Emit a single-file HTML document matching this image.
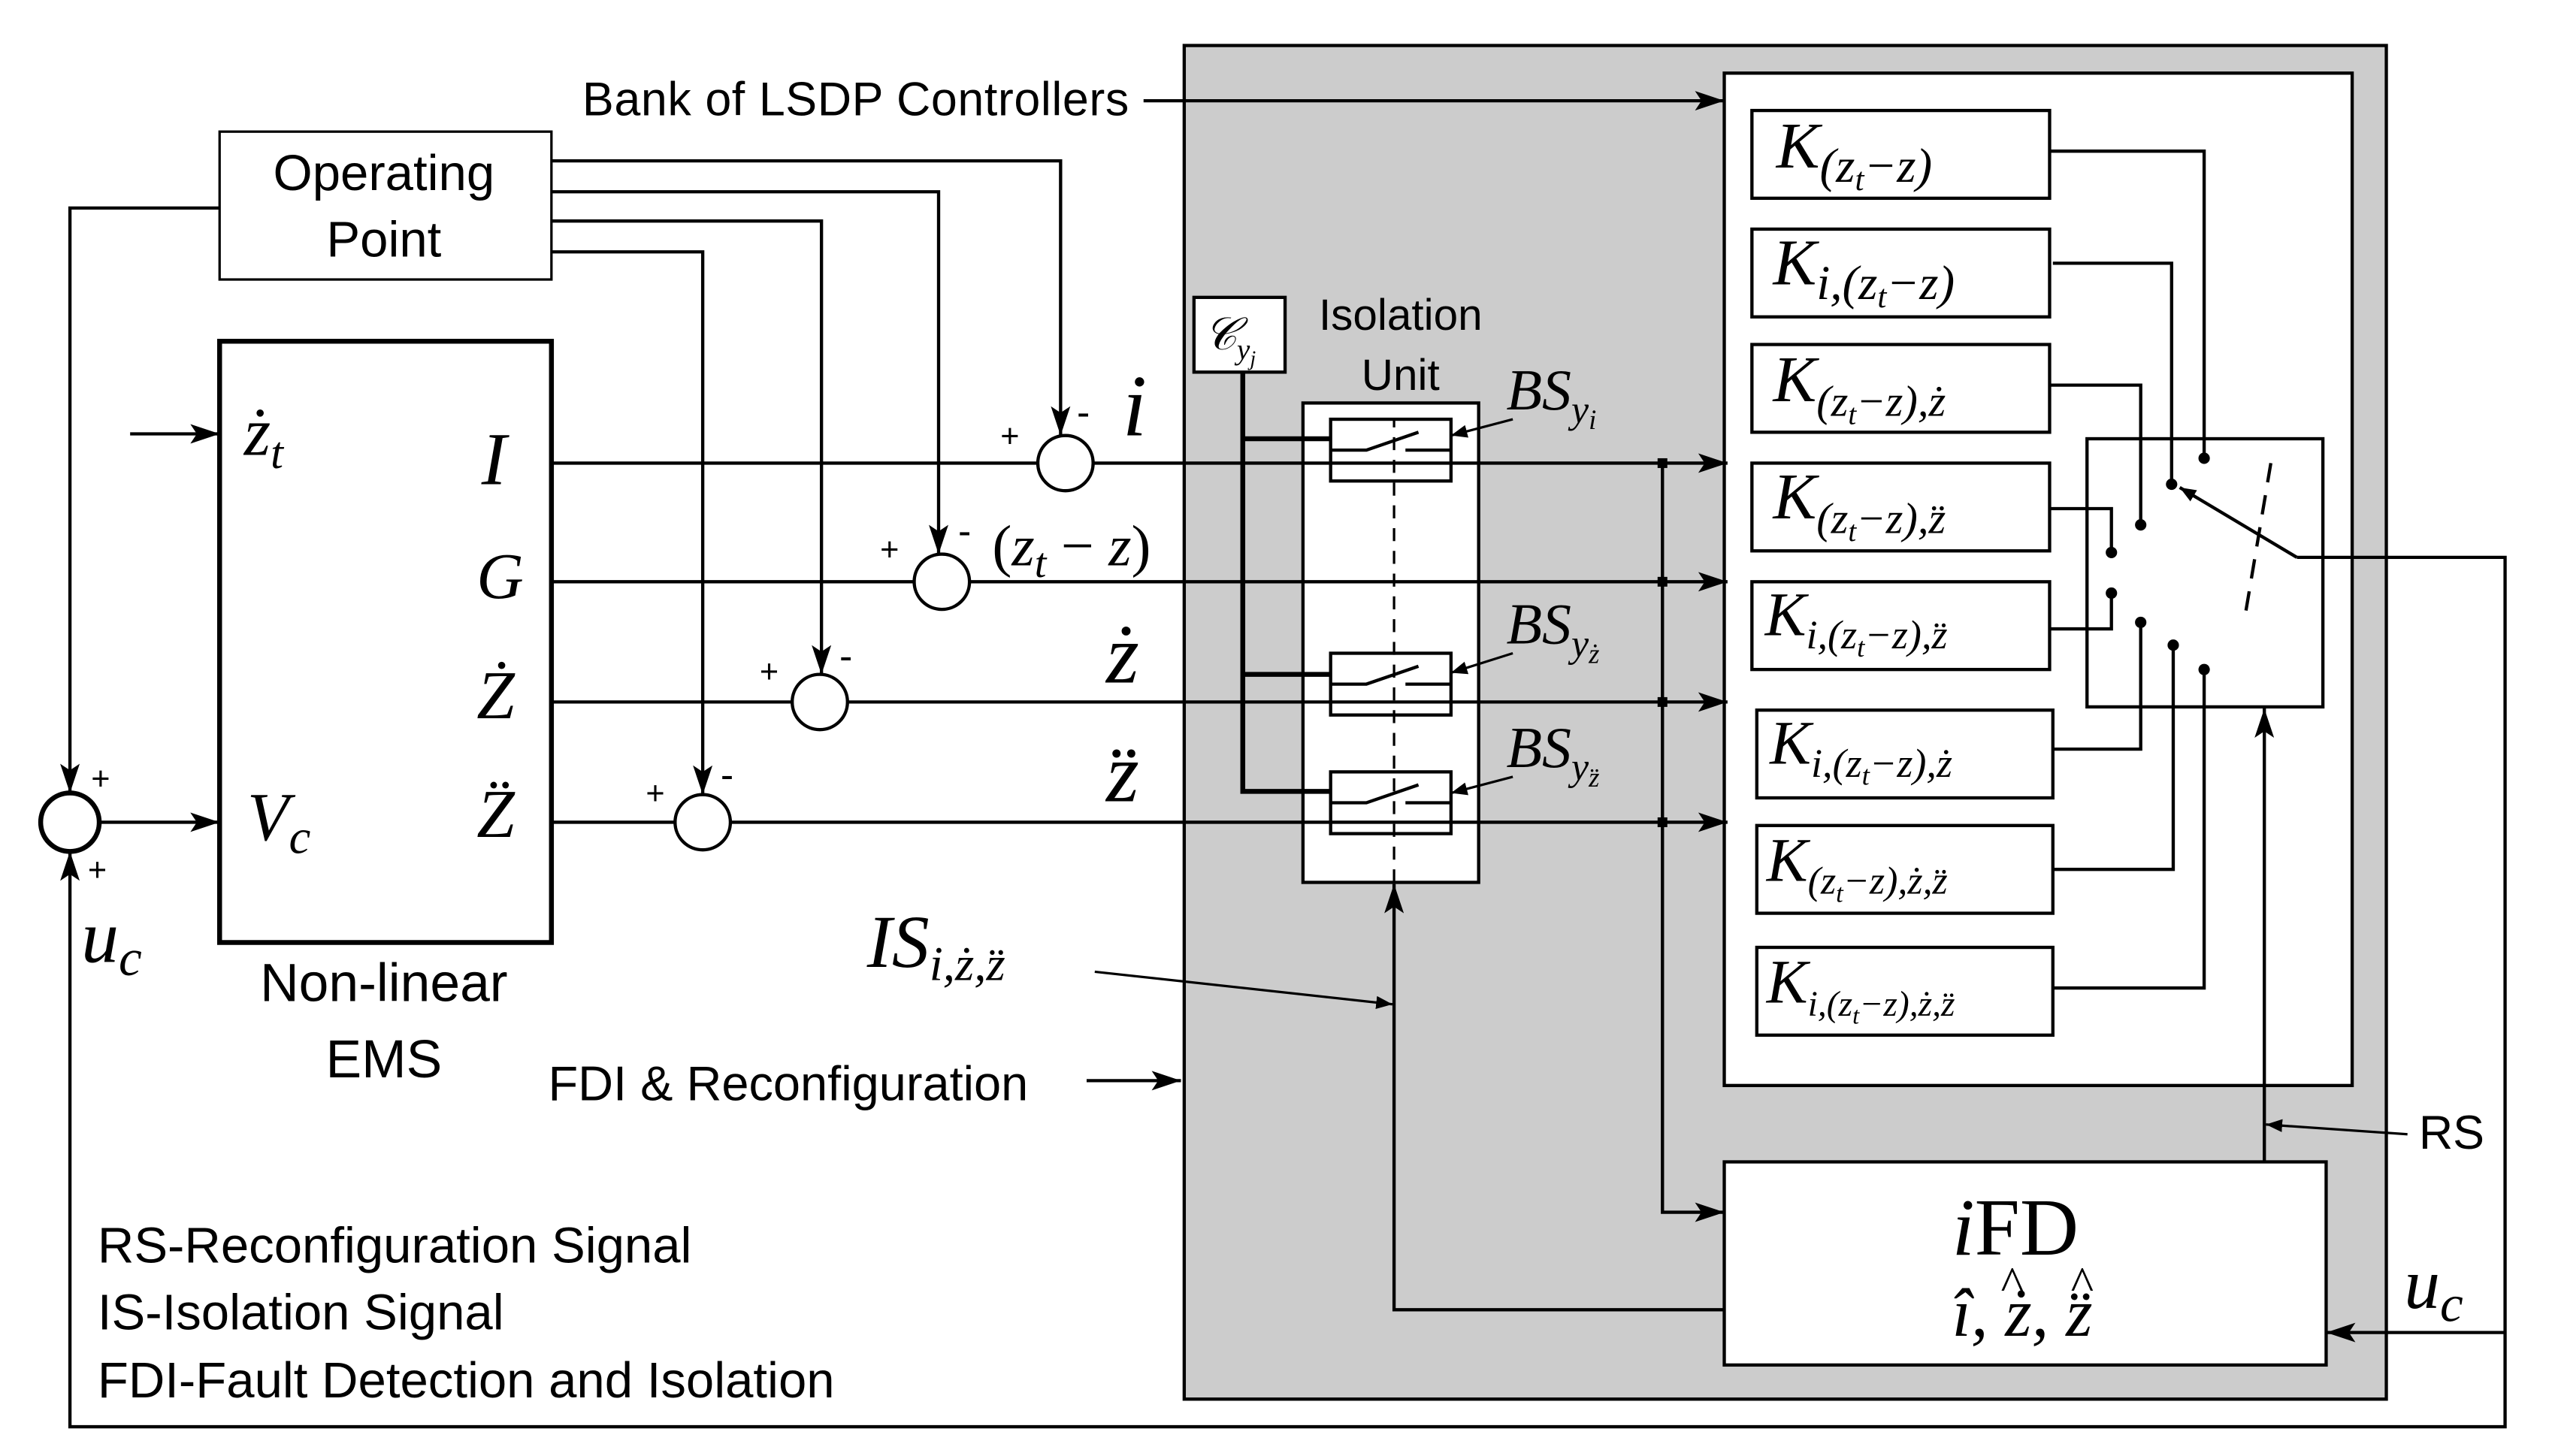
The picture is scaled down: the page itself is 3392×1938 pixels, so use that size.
<!DOCTYPE html>
<html><head><meta charset="utf-8"><style>
html,body{margin:0;padding:0;background:#fff;}
svg{display:block;}
.s{font-family:"Liberation Sans",sans-serif;}
.m{font-family:"Liberation Serif",serif;font-style:italic;}
</style></head><body>
<svg width="3392" height="1938" viewBox="0 0 1567 896" preserveAspectRatio="none" xmlns="http://www.w3.org/2000/svg">
<defs>
<marker id="a" markerWidth="10" markerHeight="8" refX="10" refY="4" orient="auto" markerUnits="userSpaceOnUse">
<path d="M0,0 L10,4 L0,8 Z" fill="#000"/></marker>
<marker id="b" markerWidth="18" markerHeight="12" refX="18" refY="6" orient="auto" markerUnits="userSpaceOnUse">
<path d="M0,0 L18,6 L0,12 L4,6 Z" fill="#000"/></marker>
</defs>
<g fill="none" stroke="#000" stroke-width="2">
<rect x="728" y="28" width="739" height="833" fill="#cccccc"/>
<rect x="1060" y="45" width="386" height="623" fill="#fff"/>
<rect x="1077" y="68" width="183" height="54" fill="#fff"/>
<rect x="1077" y="141" width="183" height="54" fill="#fff"/>
<rect x="1077" y="212" width="183" height="54" fill="#fff"/>
<rect x="1077" y="285" width="183" height="54" fill="#fff"/>
<rect x="1077" y="358" width="183" height="54" fill="#fff"/>
<rect x="1080" y="437" width="182" height="54" fill="#fff"/>
<rect x="1080" y="508" width="182" height="54" fill="#fff"/>
<rect x="1080" y="583" width="182" height="54" fill="#fff"/>
<rect x="1283" y="270" width="145" height="165" fill="#fff"/>
<rect x="1060" y="715" width="370" height="125" fill="#fff"/>
<rect x="801" y="248" width="108" height="295" fill="#fff"/>
<rect x="734" y="183" width="56" height="46" fill="#fff"/>
<rect x="135" y="81" width="204" height="91" fill="#fff" stroke-width="1.5"/>
<rect x="135" y="210" width="204" height="370" fill="#fff" stroke-width="3"/>
<circle cx="43" cy="506" r="18" stroke-width="3"/>
<circle cx="655" cy="285" r="17"/>
<circle cx="579" cy="358" r="17"/>
<circle cx="504" cy="432" r="17"/>
<circle cx="432" cy="506" r="17"/>
<rect x="818" y="258" width="74" height="38"/>
<rect x="818" y="402" width="74" height="38"/>
<rect x="818" y="475" width="74" height="38"/>
<path d="M818,277 H840 L872,266 M864,277 H892 M818,421 H840 L872,410 M864,421 H892 M818,494 H840 L872,483 M864,494 H892"/>
<path d="M857,543 V258" stroke-dasharray="8,6" stroke-width="1.5"/>
<path d="M764,229 V487 H818 M764,270 H818 M764,415 H818" stroke-width="3"/>
<path d="M339,285 H638 M672,285 H1062" marker-end="url(#b)"/>
<path d="M339,358 H562 M596,358 H1062" marker-end="url(#b)"/>
<path d="M339,432 H487 M521,432 H1062" marker-end="url(#b)"/>
<path d="M339,506 H415 M449,506 H1062" marker-end="url(#b)"/>
<path d="M61,506 H135" marker-end="url(#b)"/>
<path d="M80,267 H135" marker-end="url(#b)"/>
<path d="M1022,285 V746 H1060" marker-end="url(#b)"/>
<path d="M339,99 H652 V268" marker-end="url(#b)"/>
<path d="M339,118 H577 V341" marker-end="url(#b)"/>
<path d="M339,136 H505 V415" marker-end="url(#b)"/>
<path d="M339,155 H432 V489" marker-end="url(#b)"/>
<path d="M135,128 H43 V488" marker-end="url(#b)"/>
<path d="M1412,343 H1540 V878 H43 V524" marker-end="url(#b)"/>
<path d="M1540,820 H1430" marker-end="url(#b)"/>
<path d="M1392,715 V436" marker-end="url(#b)"/>
<path d="M1060,806 H857 V544" marker-end="url(#b)"/>
<path d="M703,62 H1060" marker-end="url(#b)"/>
<path d="M668,665 H726" marker-end="url(#b)"/>
<path d="M673,598 L856,618" marker-end="url(#a)" stroke-width="1.5"/>
<path d="M1480,698 L1393,692" marker-end="url(#a)" stroke-width="1.5"/>
<path d="M930,258 L892,268" marker-end="url(#a)" stroke-width="1.5"/>
<path d="M930,402 L892,414" marker-end="url(#a)" stroke-width="1.5"/>
<path d="M930,478 L892,488" marker-end="url(#a)" stroke-width="1.5"/>
<path d="M1260,93 H1355 V282"/>
<path d="M1262,162 H1335 V298"/>
<path d="M1260,237 H1316 V323"/>
<path d="M1260,313 H1298 V340"/>
<path d="M1260,387 H1298 V365"/>
<path d="M1262,461 H1316 V383"/>
<path d="M1262,535 H1336 V397"/>
<path d="M1262,608 H1355 V412"/>
<path d="M1412,343 L1340,300" marker-end="url(#a)"/>
<path d="M1396,285 L1380,380" stroke-dasharray="12,8"/>
</g>
<g fill="#000">
<circle cx="1355" cy="282" r="3.5"/><circle cx="1335" cy="298" r="3.5"/><circle cx="1316" cy="323" r="3.5"/>
<circle cx="1298" cy="340" r="3.5"/><circle cx="1298" cy="365" r="3.5"/><circle cx="1316" cy="383" r="3.5"/>
<circle cx="1336" cy="397" r="3.5"/><circle cx="1355" cy="412" r="3.5"/>
<rect x="1019" y="282" width="6" height="6"/><rect x="1019" y="355" width="6" height="6"/>
<rect x="1019" y="429" width="6" height="6"/><rect x="1019" y="503" width="6" height="6"/>
</g>
<g class="s" fill="#000" font-size="29">
<text x="236" y="117" text-anchor="middle" font-size="31">Operating</text>
<text x="236" y="158" text-anchor="middle" font-size="31">Point</text>
<text x="236" y="616" text-anchor="middle" font-size="33">Non-linear</text>
<text x="236" y="663" text-anchor="middle" font-size="33">EMS</text>
<text x="358" y="71" textLength="336">Bank of LSDP Controllers</text>
<text x="337" y="677" font-size="30">FDI &amp; Reconfiguration</text>
<text x="861" y="203" text-anchor="middle" font-size="27">Isolation</text>
<text x="861" y="240" text-anchor="middle" font-size="27">Unit</text>
<text x="1487" y="707">RS</text>
<text x="60" y="777" font-size="31">RS-Reconfiguration Signal</text>
<text x="60" y="818" font-size="31">IS-Isolation Signal</text>
<text x="60" y="860" font-size="31">FDI-Fault Detection and Isolation</text>
<text x="56" y="486" font-size="20">+</text><text x="54" y="542" font-size="20">+</text>
<text x="615" y="275" font-size="20">+</text><text x="662" y="262" font-size="24">-</text>
<text x="541" y="345" font-size="20">+</text><text x="589" y="335" font-size="24">-</text>
<text x="467" y="420" font-size="20">+</text><text x="516" y="412" font-size="24">-</text>
<text x="397" y="495" font-size="20">+</text><text x="443" y="485" font-size="24">-</text>
</g>
<g class="m" fill="#000">
<text x="150" y="280" font-size="42">ż<tspan font-size="28" dy="8">t</tspan></text>
<text x="296" y="298" font-size="46">I</text>
<text x="293" y="368" font-size="40">G</text>
<text x="293" y="442" font-size="42">Ż</text>
<text x="293" y="515" font-size="42">Z̈</text>
<text x="152" y="517" font-size="42">V<tspan font-size="30" dy="8">c</tspan></text>
<text x="50" y="592" font-size="46">u<tspan font-size="32" dy="8">c</tspan></text>
<text x="690" y="268" font-size="54">i</text>
<text x="610" y="348" font-size="36"><tspan font-style="normal">(</tspan>z<tspan font-size="26" dy="7">t</tspan><tspan dy="-7" font-style="normal"> − </tspan>z<tspan font-style="normal">)</tspan></text>
<text x="680" y="420" font-size="52">ż</text>
<text x="680" y="493" font-size="52">z̈</text>
<text x="740" y="215" font-size="28">𝒞<tspan font-size="18" dy="6">y</tspan><tspan font-size="13" dy="4">j</tspan></text>
<text x="926" y="252" font-size="36">BS<tspan font-size="24" dy="8">y</tspan><tspan font-size="17" dy="4">i</tspan></text>
<text x="926" y="396" font-size="36">BS<tspan font-size="24" dy="8">y</tspan><tspan font-size="17" dy="4">ż</tspan></text>
<text x="926" y="472" font-size="36">BS<tspan font-size="24" dy="8">y</tspan><tspan font-size="17" dy="4">z̈</tspan></text>
<text x="533" y="595" font-size="46">IS<tspan font-size="30" dy="8">i,ż,z̈</tspan></text>
<text x="1092" y="103" font-size="40">K<tspan font-size="30" dy="9">(z</tspan><tspan font-size="20" dy="5">t</tspan><tspan font-size="30" dy="-5">−z)</tspan></text>
<text x="1090" y="175" font-size="40">K<tspan font-size="30" dy="9">i,(z</tspan><tspan font-size="20" dy="5">t</tspan><tspan font-size="30" dy="-5">−z)</tspan></text>
<text x="1090" y="247" font-size="40">K<tspan font-size="27" dy="9">(z</tspan><tspan font-size="18" dy="5">t</tspan><tspan font-size="27" dy="-5">−z),ż</tspan></text>
<text x="1090" y="319" font-size="40">K<tspan font-size="27" dy="9">(z</tspan><tspan font-size="18" dy="5">t</tspan><tspan font-size="27" dy="-5">−z),z̈</tspan></text>
<text x="1085" y="391" font-size="38">K<tspan font-size="25" dy="8">i,(z</tspan><tspan font-size="17" dy="5">t</tspan><tspan font-size="25" dy="-5">−z),z̈</tspan></text>
<text x="1088" y="470" font-size="38">K<tspan font-size="25" dy="8">i,(z</tspan><tspan font-size="17" dy="5">t</tspan><tspan font-size="25" dy="-5">−z),ż</tspan></text>
<text x="1086" y="542" font-size="38">K<tspan font-size="24" dy="8">(z</tspan><tspan font-size="16" dy="5">t</tspan><tspan font-size="24" dy="-5">−z),ż,z̈</tspan></text>
<text x="1086" y="617" font-size="38">K<tspan font-size="22" dy="8">i,(z</tspan><tspan font-size="15" dy="5">t</tspan><tspan font-size="22" dy="-5">−z),ż,z̈</tspan></text>
<text x="1200" y="772" font-size="50">i<tspan font-style="normal">FD</tspan></text>
<text x="1200" y="822" font-size="42">î, ż, z̈</text>
<text x="1230" y="800" font-size="30" font-style="normal">^</text>
<text x="1273" y="800" font-size="30" font-style="normal">^</text>
<text x="1478" y="805" font-size="44">u<tspan font-size="32" dy="8">c</tspan></text>
</g>
</svg>
</body></html>
